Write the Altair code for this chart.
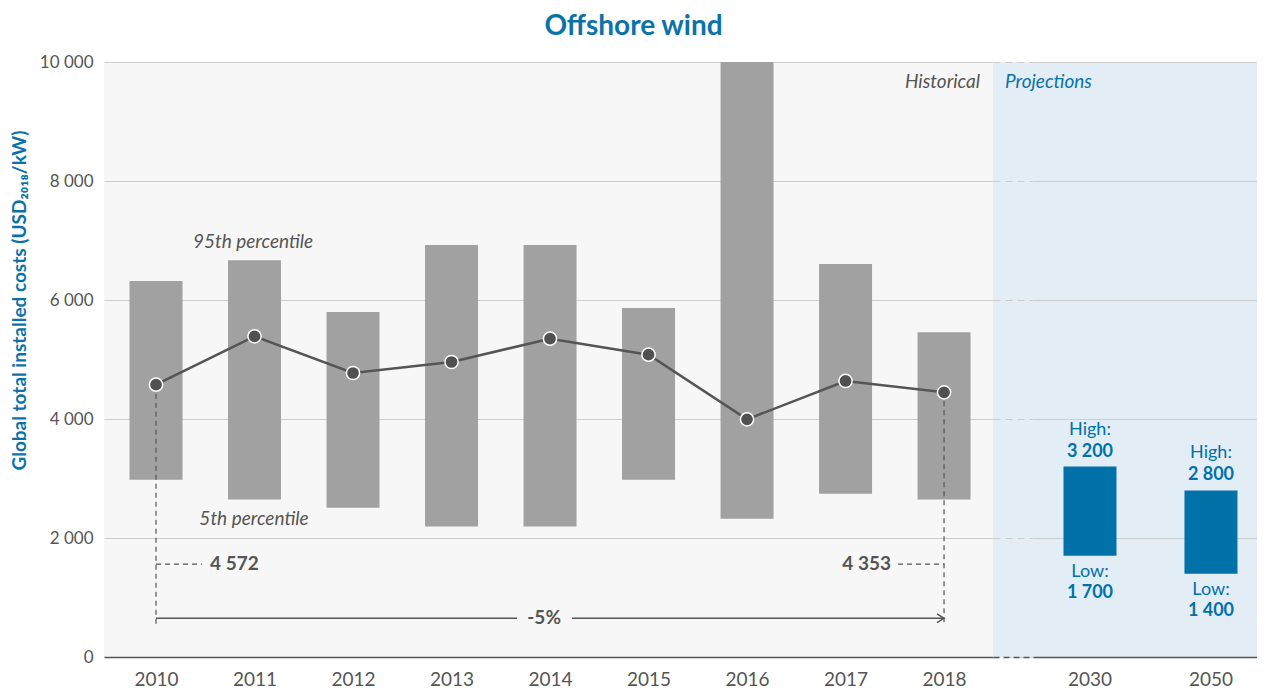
import altair as alt
import pandas as pd

# ---------------- data ----------------
years = [2010, 2011, 2012, 2013, 2014, 2015, 2016, 2017, 2018]
p95 = [6320, 6670, 5800, 6925, 6925, 5865, 10000, 6605, 5460]
p5 = [2980, 2645, 2510, 2195, 2195, 2980, 2325, 2745, 2645]
avg = [4577, 5390, 4773, 4958, 5350, 5081, 3995, 4639, 4448]

proj_years = ["2030", "2050"]
proj_high = [3200, 2800]
proj_low = [1700, 1400]
high_labels = ["3 200", "2 800"]
low_labels = ["1 700", "1 400"]

start_label = "4 572"
end_label = "4 353"
change_label = "-5%"
y_ticks = [0, 2000, 4000, 6000, 8000, 10000]

# ---------------- styles ----------------
FONT = "Lato, DejaVu Sans"
BLUE = "#0A72A9"
BAR_BLUE = "#0071A9"
GREY_TXT = "#555555"
H = 595

hist_df = pd.DataFrame({"year": years, "p95": p95, "p5": p5, "avg": avg})
proj_df = pd.DataFrame({"yr": proj_years, "high": proj_high, "low": proj_low,
                        "hl": high_labels, "ll": low_labels})

xs = alt.Scale(domain=[2009.472, 2018.497], nice=False, zero=False, padding=0)
ys = alt.Scale(domain=[0, 10000], nice=False, padding=0)

x_hist = alt.X("year:Q", scale=xs, axis=alt.Axis(
    values=years, format="d", ticks=False, grid=False, domain=True,
    domainColor=GREY_TXT, domainWidth=1.5, labelFontSize=19, labelPadding=13,
    labelFlush=False, title=None))
y_hist_axis = alt.Axis(
    values=y_ticks, labelExpr="replace(format(datum.value, ','), ',', ' ')",
    labelFontSize=17, labelPadding=11, ticks=False, domain=False, grid=True,
    title="Global total installed costs (USD₂₀₁₈/kW)", titleFontSize=19,
    titleFont=FONT, titleFontWeight="bold", titleColor=BLUE, titlePadding=15,
    titleY=238, minExtent=60, maxExtent=60)

base = alt.Chart(hist_df)
bars = base.mark_bar(width=53, color="#A0A1A0").encode(
    x=x_hist,
    y=alt.Y("p95:Q", scale=ys, axis=y_hist_axis),
    y2="p5:Q")
line = base.mark_line(color="#555555", strokeWidth=2.5).encode(
    x=alt.X("year:Q", scale=xs), y=alt.Y("avg:Q", scale=ys))

# dashed verticals from first / last points
ends_df = hist_df[hist_df["year"].isin([years[0], years[-1]])].assign(bottom=540)
vdash = alt.Chart(ends_df).mark_rule(color=GREY_TXT, strokeDash=[5, 4], strokeWidth=1.2).encode(
    x=alt.X("year:Q", scale=xs), y=alt.Y("avg:Q", scale=ys), y2="bottom:Q")

hdash_df = pd.DataFrame({"x": [2010, 2017.533], "x2": [2010.467, 2018], "y": [1560, 1560]})
hdash = alt.Chart(hdash_df).mark_rule(color=GREY_TXT, strokeDash=[5, 4], strokeWidth=1.2).encode(
    x=alt.X("x:Q", scale=xs), x2="x2:Q", y=alt.Y("y:Q", scale=ys))

arrow_df = pd.DataFrame({"x": [2010, 2014.223], "x2": [2013.665, 2018], "y": [650, 650]})
arrow = alt.Chart(arrow_df).mark_rule(color=GREY_TXT, strokeWidth=1.5).encode(
    x=alt.X("x:Q", scale=xs), x2="x2:Q", y=alt.Y("y:Q", scale=ys))
head_df = pd.DataFrame({"x": [2018], "y": [650]})
head = alt.Chart(head_df).mark_point(
    shape="M-1.75,-1.1L0,0L-1.75,1.1", size=64, filled=False,
    color=GREY_TXT, strokeWidth=1.5, opacity=1).encode(
    x=alt.X("x:Q", scale=xs), y=alt.Y("y:Q", scale=ys))

points = base.mark_circle(size=175, color="#505050", stroke="white",
                          strokeWidth=1.5, opacity=1).encode(
    x=alt.X("year:Q", scale=xs), y=alt.Y("avg:Q", scale=ys))

def txt(df, align, style="normal", weight="normal", color=GREY_TXT, size=19):
    return alt.Chart(df).mark_text(
        align=align, baseline="middle", font=FONT, fontSize=size,
        fontStyle=style, fontWeight=weight, color=color).encode(
        x=alt.X("x:Q", scale=xs), y=alt.Y("y:Q", scale=ys), text="t:N")

lbl_left = txt(pd.DataFrame({"x": [2010.548], "y": [1560], "t": [start_label]}), "left", weight="bold")
lbl_right = txt(pd.DataFrame({"x": [2017.462], "y": [1560], "t": [end_label]}), "right", weight="bold")
lbl_chg = txt(pd.DataFrame({"x": [2013.94], "y": [650], "t": [change_label]}), "center", weight="bold")
lbl_pct = txt(pd.DataFrame({"x": [2010.985, 2010.995], "y": [6970, 2319],
                            "t": ["95th percentile", "5th percentile"]}), "center", style="italic")
lbl_hist = txt(pd.DataFrame({"x": [2018.365], "y": [9665], "t": ["Historical"]}), "right", style="italic")

hist = alt.layer(bars, line, vdash, hdash, arrow, head, points,
                 lbl_left, lbl_right, lbl_chg, lbl_pct, lbl_hist).properties(
    width=889, height=H, view=alt.ViewBackground(fill="#F7F7F7", stroke=None))

# ---------------- gap panel ----------------
gap_df = pd.DataFrame({"u": [0.5], "v": [5000]})
gap = alt.Chart(gap_df).mark_point(opacity=0).encode(
    x=alt.X("u:Q", scale=alt.Scale(domain=[0, 1]), axis=alt.Axis(
        labels=False, ticks=False, grid=False, domain=True, domainDash=[6, 4],
        domainColor=GREY_TXT, domainWidth=1.5, title=None)),
    y=alt.Y("v:Q", scale=ys, axis=alt.Axis(
        values=y_ticks, labels=False, ticks=False, domain=False, grid=True,
        gridDash=[7, 5], title=None))
).properties(width=40, height=H, view=alt.ViewBackground(fill="#E3EDF6", stroke=None))

# ---------------- projections panel ----------------
xp = alt.X("yr:N", sort=proj_years, scale=alt.Scale(
    domain=proj_years, paddingInner=0.5, paddingOuter=0.1756, align=0.629),
    axis=alt.Axis(labelAngle=0, ticks=False, grid=False, domain=True,
                  domainColor=GREY_TXT, domainWidth=1.5, labelFontSize=19,
                  labelPadding=13, title=None))
yp_axis = alt.Axis(values=y_ticks, labels=False, ticks=False, domain=False,
                   grid=True, title=None)
pbase = alt.Chart(proj_df)
pbars = pbase.mark_bar(width=53, color=BAR_BLUE).encode(
    x=xp, y=alt.Y("high:Q", scale=ys, axis=yp_axis), y2="low:Q")

def ptxt(field, yfield, dy, weight, text=None):
    m = pbase.mark_text(align="center", baseline="middle", font=FONT, fontSize=18,
                        fontWeight=weight, color=BAR_BLUE, dy=dy)
    enc = dict(x=alt.X("yr:N", sort=proj_years), y=alt.Y(f"{yfield}:Q", scale=ys))
    if text is not None:
        enc["text"] = alt.value(text)
    else:
        enc["text"] = f"{field}:N"
    return m.encode(**enc)

p_high_w = ptxt(None, "high", -37, "normal", "High:")
p_high_v = ptxt("hl", "high", -15, "bold")
p_low_w = ptxt(None, "low", 16, "normal", "Low:")
p_low_v = ptxt("ll", "low", 37, "bold")

proj_lbl = alt.Chart(pd.DataFrame({"yr": [proj_years[0]], "y": [9665], "t": ["Projections"]})).mark_text(
    align="left", baseline="middle", font=FONT, fontSize=19, fontStyle="italic",
    color=BLUE, dx=-85).encode(x=alt.X("yr:N", sort=proj_years), y=alt.Y("y:Q", scale=ys), text="t:N")

proj = alt.layer(pbars, p_high_w, p_high_v, p_low_w, p_low_v, proj_lbl).properties(
    width=224, height=H, view=alt.ViewBackground(fill="#E3EDF6", stroke=None))

chart = alt.hconcat(hist, gap, proj, spacing=0, bounds="flush").properties(
    title=alt.TitleParams("Offshore wind", font=FONT, fontSize=28, fontWeight="bold",
                          color=BLUE, anchor="middle", offset=12, frame="bounds"),
    padding={"left": 2, "top": 5, "right": 0, "bottom": 0},
).configure_view(stroke=None).configure_axis(
    gridColor="#CCCCCC", gridWidth=1, labelColor=GREY_TXT, labelFont=FONT,
    domainColor=GREY_TXT)

chart.save("out.html", embed_options={"renderer": "svg", "actions": False})
